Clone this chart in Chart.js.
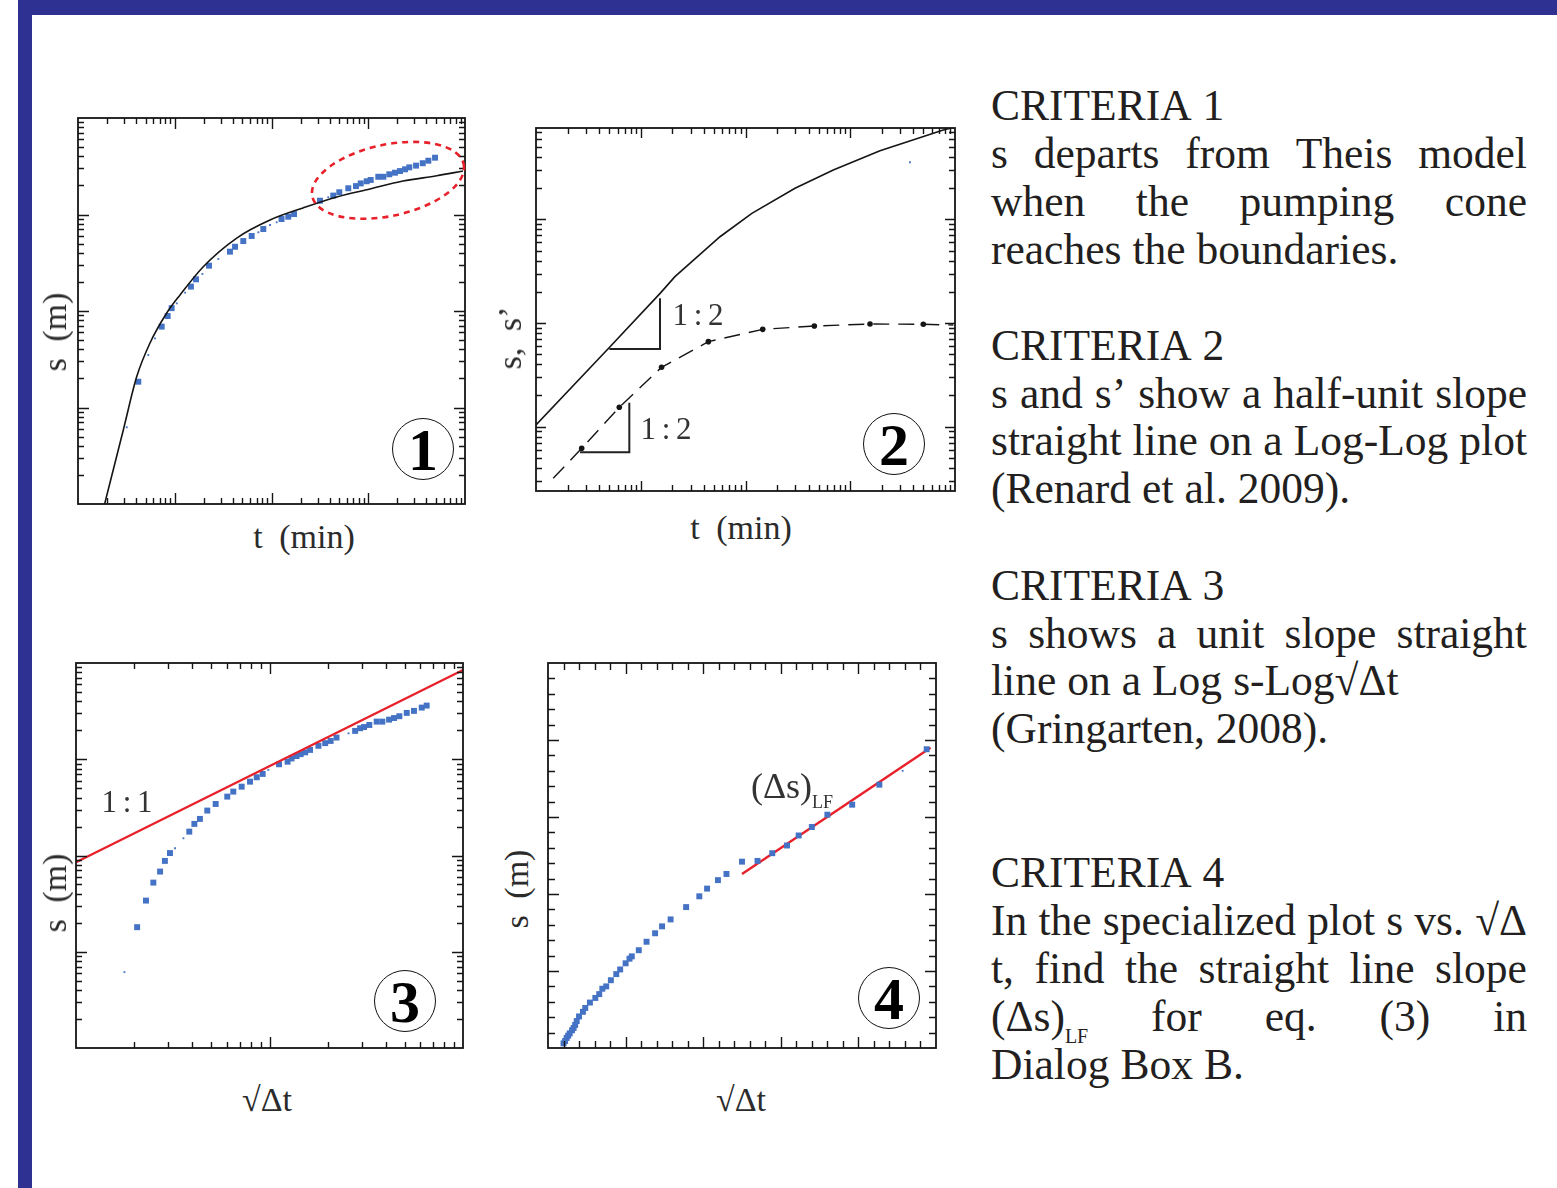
<!DOCTYPE html>
<html>
<head>
<meta charset="utf-8">
<script src="https://cdn.jsdelivr.net/npm/chart.js@4.4.1/dist/chart.umd.min.js"></script>
<style>
  body { margin: 0; background: #fff; width: 1557px; height: 1188px; position: relative; overflow: hidden;
         font-family: "Liberation Serif", serif; color: #231f20; }
  .bar-top { position: absolute; left: 18px; top: 0; width: 1539px; height: 15px; background: #2e3192; }
  .bar-left { position: absolute; left: 18px; top: 0; width: 14px; height: 1188px; background: #2e3192; }
  canvas { position: absolute; }
  .lbl { position: absolute; white-space: nowrap; font-size: 34px; line-height: 1; color: #2b2b2b;
         word-spacing: 8px; transform: translate(-50%, -50%); }
  .rot { transform: translate(-50%, -50%) rotate(-90deg); }
  .ann { position: absolute; white-space: nowrap; font-size: 31px; line-height: 1; color: #333;
         word-spacing: -2px; transform: translate(-50%, -50%); }
  .circ { position: absolute; width: 60px; height: 60px; border: 1.3px solid #111; border-radius: 50%;
          font-weight: bold; font-size: 60px; line-height: 62px; text-align: center; color: #000;
          transform: translate(-50%, -50%); }
  .line { position: absolute; left: 991px; width: 536px; height: 48px; line-height: 48px; font-size: 43.5px;
          white-space: nowrap; display: flex; align-items: baseline; }
  .line.j { justify-content: space-between; }
  .line.l span { margin-right: 11px; }
  sub { font-size: 20px; line-height: 0; vertical-align: -12px; }
</style>
</head>
<body>
<div class="bar-top"></div>
<div class="bar-left"></div>

<canvas id="chart1" width="407" height="406" style="left:68px; top:108px"></canvas>
<canvas id="chart2" width="439" height="383" style="left:526px; top:118px"></canvas>
<canvas id="chart3" width="407" height="405" style="left:66px; top:653px"></canvas>
<canvas id="chart4" width="408" height="405" style="left:538px; top:653px"></canvas>

<div class="lbl rot" style="left:55px; top:332px">s (m)</div>
<div class="lbl" style="left:304px; top:537px">t (min)</div>
<div class="lbl rot" style="left:510px; top:338px">s, s’</div>
<div class="lbl" style="left:741px; top:528px">t (min)</div>
<div class="lbl rot" style="left:55px; top:893px">s (m)</div>
<div class="lbl" style="left:267px; top:1100px">√Δt</div>
<div class="lbl rot" style="left:517px; top:889px">s (m)</div>
<div class="lbl" style="left:741px; top:1100px">√Δt</div>

<div class="ann" style="left:698px; top:314px">1 : 2</div>
<div class="ann" style="left:666px; top:428px">1 : 2</div>
<div class="ann" style="left:127px; top:801px">1 : 1</div>
<div class="ann" style="left:792px; top:786px; font-size:36px">(Δs)<sub style="font-size:18px; vertical-align:-10px">LF</sub></div>

<div class="circ" style="left:423px; top:449px">1</div>
<div class="circ" style="left:894px; top:444px">2</div>
<div class="circ" style="left:405px; top:1001px">3</div>
<div class="circ" style="left:889px; top:998px">4</div>

<div id="criteria"></div>

<script>
// ---- panel 1: drawdown s vs time t (log-log), departure from Theis ----
const p1TheisT = [1.86, 2.94, 4.04, 5.55, 8.26, 11.3, 19.6, 43.7, 96.5, 212, 472, 1042, 2286, 5100, 9530];
const p1TheisS = [0.0095, 0.0585, 0.208, 0.466, 0.953, 1.46, 2.86, 5.70, 8.77, 11.7, 15.2, 18.4, 22.2, 25.2, 28.2];
const p1T = [4.20, 7.33, 8.45, 9.29, 14.7, 16.6, 22.6, 37.2, 42.0, 51.1, 62.4, 82.3, 127, 149, 171, 317, 435,
  502, 622, 747, 836, 964, 1060, 1270, 1432, 1650, 1890, 2130, 2400, 2655, 3120, 3655, 4180, 4900];
const p1S = [0.185, 0.689, 0.887, 1.07, 1.79, 2.13, 2.95, 4.12, 4.63, 5.31, 5.99, 7.07, 8.98, 9.49, 10.1, 13.9,
  15.7, 17.0, 18.7, 19.7, 21.0, 22.1, 22.8, 24.6, 24.6, 26.1, 27.1, 28.2, 29.4, 30.8, 32.1, 34.0, 36.1, 38.8];
const p1DotT = [3.19, 5.33, 6.25, 10.5, 12.8, 19.3, 28.2, 73.1, 96.5, 113, 386];
const p1DotS = [0.0624, 0.350, 0.521, 1.20, 1.55, 2.42, 3.46, 6.54, 7.78, 8.30, 15.1];
const p1Range = { t: [1, 10000], s: [0.01, 100] };
// highlighted zone (dashed ellipse): centre in data units, half axes in decades
const p1Zone = { t: 1600, s: 22.6, tDec: 0.80, sDec: 0.37, tilt: -12 };

// ---- panel 2: s and derivative s' (log-log) ----
const p2T = [1, 5.09, 15.3, 21.2, 57.1, 115, 297, 689, 1923, 7730, 10000];
const p2S = [0.104, 0.590, 1.93, 2.80, 6.79, 11.4, 19.9, 29.9, 45.9, 72.6, 77.6];
const p2DerivT = [1.46, 2.73, 6.24, 15.8, 44.2, 146, 454, 1544, 4980, 9630];
const p2DerivS = [0.0318, 0.0619, 0.154, 0.374, 0.661, 0.869, 0.935, 0.978, 0.972, 0.956];
const p2SlopeUpT = [5.01, 15.27, 15.27];
const p2SlopeUpS = [0.561, 0.561, 1.73];
const p2SlopeLowT = [2.63, 7.78, 7.78];
const p2SlopeLowS = [0.0566, 0.0566, 0.170];
const p2StrayT = [3717];
const p2StrayS = [35.5];
const p2Range = { t: [1, 10000], s: [0.024, 75.9] };

// ---- panel 3: s vs sqrt(dt) (log-log), unit slope ----
const p3X = [2.07, 2.30, 2.51, 2.72, 2.88, 3.06, 3.85, 4.09, 4.37, 4.77, 5.27, 6.05, 6.50, 7.18, 7.93, 8.59, 9.22,
  11.2, 12.4, 13.0, 13.8, 14.5, 15.3, 16.2, 17.9, 19.4, 20.7, 22.2, 27.7, 29.4, 30.8, 32.8, 35.8, 38.3, 41.5,
  44.0, 46.9, 51.2, 55.8, 61.2, 64.9];
const p3S = [0.180, 0.340, 0.523, 0.681, 0.879, 1.06, 1.77, 2.13, 2.40, 2.93, 3.43, 4.09, 4.61, 5.19, 5.85, 6.50,
  7.04, 8.87, 9.44, 10.2, 10.8, 11.3, 11.8, 12.5, 13.8, 14.7, 15.5, 16.8, 19.7, 21.0, 21.6, 22.7, 24.6, 24.6,
  25.8, 26.8, 28.0, 30.3, 31.8, 34.4, 36.1];
const p3DotX = [1.78, 3.25, 3.59, 9.86, 25.6];
const p3DotS = [0.0614, 1.19, 1.51, 7.74, 18.6];
const p3LineX = [1, 100];
const p3LineS = [0.851, 84.6];
const p3Range = { x: [1, 100], s: [0.01, 100] };

// ---- panel 4: specialized plot s vs sqrt(dt) (linear) ----
const p4X = [4.88, 4.27, 3.92, 3.60, 3.40, 3.23, 3.08, 2.89, 2.70, 2.50, 2.30, 2.19, 2.05, 1.95, 1.78, 1.58, 1.47,
  1.38, 1.27, 1.17, 1.08, 1.05, 1.00, 0.93, 0.88, 0.81, 0.75, 0.70, 0.66, 0.61, 0.54, 0.48, 0.45, 0.40, 0.37,
  0.35, 0.33, 0.31, 0.28, 0.26, 0.24, 0.22, 0.20];
const p4S = [3.88, 3.42, 3.16, 3.03, 2.87, 2.76, 2.63, 2.53, 2.43, 2.42, 2.26, 2.18, 2.07, 1.97, 1.83, 1.67, 1.58,
  1.49, 1.38, 1.27, 1.19, 1.16, 1.10, 1.02, 0.96, 0.88, 0.80, 0.77, 0.70, 0.65, 0.59, 0.52, 0.47, 0.41, 0.35,
  0.30, 0.26, 0.23, 0.19, 0.16, 0.13, 0.09, 0.06];
const p4DotX = [4.57];
const p4DotS = [3.60];
const p4LineX = [2.50, 4.93];
const p4LineS = [2.26, 3.90];
const p4Range = { x: [0, 5], s: [0, 5] };

// criteria text, one entry per printed line (1 = justified)
const criteriaBlocks = [
  { baseline: 119.5, lines: [["CRITERIA 1", 0], ["s departs from Theis model", 1], ["when the pumping cone", 1], ["reaches the boundaries.", 0]] },
  { baseline: 359.3, lines: [["CRITERIA 2", 0], ["s and s’ show a half-unit slope", 1], ["straight line on a Log-Log plot", 1], ["(Renard et al. 2009).", 0]] },
  { baseline: 599.3, lines: [["CRITERIA 3", 0], ["s shows a unit slope straight", 1], ["line on a Log s-Log√Δt", 0], ["(Gringarten, 2008).", 0]] },
  { baseline: 886.7, lines: [["CRITERIA 4", 0], ["In the specialized plot s vs. √Δ", 1], ["t, find the straight line slope", 1], ["(Δs)<sub>LF</sub> for eq. (3) in", 1], ["Dialog Box B.", 0]] }
];

const BLUE = "#4472c4";
const RED = "#e8202a";
const INK = "#151515";

const pts = (xs, ys) => xs.map((x, i) => ({ x, y: ys[i] }));

function logTicks(lo, hi) {
  const out = [];
  for (let e = Math.floor(Math.log10(lo)); e <= Math.ceil(Math.log10(hi)); e++) {
    for (let m = 1; m < 10; m++) {
      const v = m * Math.pow(10, e);
      if (v > lo * 1.0001 && v < hi * 0.9999) out.push(v);
    }
  }
  return out;
}
const isDecade = v => Math.abs(Math.log10(v) - Math.round(Math.log10(v))) < 1e-6;
const linTicks = (lo, hi, step) => {
  const out = [];
  for (let v = lo + step; v < hi - step / 2; v += step) out.push(Math.round(v * 1000) / 1000);
  return out;
};
const isWhole = v => Math.abs(v - Math.round(v)) < 1e-6;

// box + inward ticks on all four sides
const framePlugin = {
  id: "frame",
  afterDatasetsDraw(chart, args, opts) {
    const { ctx, chartArea: a, scales } = chart;
    ctx.save();
    ctx.strokeStyle = INK;
    ctx.lineWidth = 1.4;
    ctx.beginPath();
    opts.xTicks.forEach(v => {
      const px = Math.round(scales.x.getPixelForValue(v)) + 0.5;
      const len = opts.xMajor(v) ? opts.major : opts.minor;
      ctx.moveTo(px, a.bottom); ctx.lineTo(px, a.bottom - len);
      ctx.moveTo(px, a.top); ctx.lineTo(px, a.top + len);
    });
    opts.yTicks.forEach(v => {
      const py = Math.round(scales.y.getPixelForValue(v)) + 0.5;
      const len = opts.yMajor(v) ? opts.major : opts.minor;
      ctx.moveTo(a.left, py); ctx.lineTo(a.left + len, py);
      ctx.moveTo(a.right, py); ctx.lineTo(a.right - len, py);
    });
    ctx.stroke();
    ctx.lineWidth = 1.8;
    ctx.strokeRect(a.left, a.top, a.right - a.left, a.bottom - a.top);
    ctx.restore();
  }
};
Chart.register(framePlugin);

// dashed red ellipse around the late-time departure (panel 1)
const zonePlugin = {
  id: "zone",
  afterDatasetsDraw(chart) {
    const { ctx, scales } = chart;
    const cx = scales.x.getPixelForValue(p1Zone.t);
    const cy = scales.y.getPixelForValue(p1Zone.s);
    const rx = scales.x.getPixelForValue(p1Zone.t * Math.pow(10, p1Zone.tDec)) - cx;
    const ry = cy - scales.y.getPixelForValue(p1Zone.s * Math.pow(10, p1Zone.sDec));
    ctx.save();
    ctx.strokeStyle = RED;
    ctx.lineWidth = 2.6;
    ctx.setLineDash([6, 5]);
    ctx.beginPath();
    ctx.ellipse(cx, cy, rx, ry, p1Zone.tilt * Math.PI / 180, 0, Math.PI * 2);
    ctx.stroke();
    ctx.restore();
  }
};

function squares(data) {
  return { data, pointStyle: "rect", pointRadius: 4.2, backgroundColor: BLUE, borderWidth: 0, clip: 4 };
}
function specks(data) {
  return { data, pointStyle: "rect", pointRadius: 1.3, backgroundColor: BLUE, borderWidth: 0, clip: 4 };
}
function line(data, color, width, extra) {
  return Object.assign({ data, showLine: true, borderColor: color, borderWidth: width, pointRadius: 0,
    clip: 0, tension: 0 }, extra || {});
}

function makeChart(id, datasets, xScale, yScale, frame, extraPlugins) {
  return new Chart(document.getElementById(id), {
    type: "scatter",
    data: { datasets },
    options: {
      responsive: false,
      animation: false,
      devicePixelRatio: 1,
      layout: { padding: 10 },
      scales: {
        x: Object.assign({ display: false }, xScale),
        y: Object.assign({ display: false }, yScale)
      },
      plugins: { legend: { display: false }, tooltip: { enabled: false }, frame }
    },
    plugins: extraPlugins || []
  });
}

// panel 1
makeChart("chart1", [
  line(pts(p1TheisT, p1TheisS), INK, 1.6, { cubicInterpolationMode: "monotone" }),
  squares(pts(p1T, p1S)),
  specks(pts(p1DotT, p1DotS))
], { type: "logarithmic", min: p1Range.t[0], max: p1Range.t[1] },
   { type: "logarithmic", min: p1Range.s[0], max: p1Range.s[1] },
   { xTicks: logTicks(...p1Range.t), yTicks: logTicks(...p1Range.s), xMajor: isDecade, yMajor: isDecade, major: 11, minor: 6 },
   [zonePlugin]);

// panel 2
makeChart("chart2", [
  line(pts(p2T, p2S), INK, 1.6),
  line(pts(p2DerivT, p2DerivS), INK, 1.4, {
    borderDash: [16, 9],
    pointRadius: p2DerivT.map((t, i) => (i === 0 || i === p2DerivT.length - 1) ? 0 : 2.8),
    pointBackgroundColor: INK, pointBorderWidth: 0
  }),
  line(pts(p2SlopeUpT, p2SlopeUpS), "#222", 2),
  line(pts(p2SlopeLowT, p2SlopeLowS), "#222", 2),
  specks(pts(p2StrayT, p2StrayS))
], { type: "logarithmic", min: p2Range.t[0], max: p2Range.t[1] },
   { type: "logarithmic", min: p2Range.s[0], max: p2Range.s[1] },
   { xTicks: logTicks(...p2Range.t), yTicks: logTicks(...p2Range.s), xMajor: isDecade, yMajor: isDecade, major: 10, minor: 6 });

// panel 3
makeChart("chart3", [
  line(pts(p3LineX, p3LineS), RED, 2.4),
  squares(pts(p3X, p3S)),
  specks(pts(p3DotX, p3DotS))
], { type: "logarithmic", min: p3Range.x[0], max: p3Range.x[1] },
   { type: "logarithmic", min: p3Range.s[0], max: p3Range.s[1] },
   { xTicks: logTicks(...p3Range.x), yTicks: logTicks(...p3Range.s), xMajor: isDecade, yMajor: isDecade, major: 11, minor: 6 });

// panel 4
makeChart("chart4", [
  squares(pts(p4X, p4S)),
  specks(pts(p4DotX, p4DotS)),
  line(pts(p4LineX, p4LineS), RED, 2.4)
], { type: "linear", min: p4Range.x[0], max: p4Range.x[1] },
   { type: "linear", min: p4Range.s[0], max: p4Range.s[1] },
   { xTicks: linTicks(0, 5, 0.2), yTicks: linTicks(0, 5, 0.2), xMajor: isWhole, yMajor: isWhole, major: 11, minor: 7 });

// criteria text on the right
const holder = document.getElementById("criteria");
criteriaBlocks.forEach(block => {
  block.lines.forEach(([html, justify], i) => {
    const div = document.createElement("div");
    div.className = "line " + (justify ? "j" : "l");
    div.style.top = (block.baseline - 38.7 + i * 47.9) + "px";
    html.split(" ").forEach(word => {
      const span = document.createElement("span");
      span.innerHTML = word;
      div.appendChild(span);
    });
    holder.appendChild(div);
  });
});
</script>
</body>
</html>
